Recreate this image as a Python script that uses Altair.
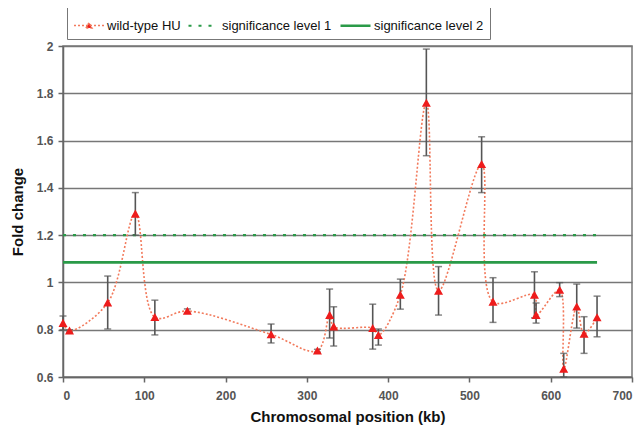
import altair as alt
import pandas as pd

# ---- data ----
pos_kb = [0, 8, 55, 89, 113, 153, 256, 313, 328, 333, 381, 388, 415, 447, 462,
          515, 529, 580, 582, 611, 616, 632, 641, 657]
fold = [0.828, 0.796, 0.914, 1.29, 0.853, 0.879, 0.78, 0.711, 0.862, 0.813, 0.806, 0.777,
        0.947, 1.759, 0.964, 1.50, 0.918, 0.947, 0.862, 0.968, 0.634, 0.897, 0.782, 0.852]
err_lo = [0.80, 0.79, 0.803, 1.20, 0.778, 0.87, 0.744, 0.705, 0.765, 0.731, 0.718, 0.735,
          0.887, 1.536, 0.862, 1.38, 0.831, 0.85, 0.828, 0.94, 0.60, 0.807, 0.70, 0.77]
err_hi = [0.858, 0.80, 1.027, 1.38, 0.925, 0.888, 0.824, 0.717, 0.972, 0.897, 0.908, 0.803,
          1.014, 1.987, 1.067, 1.616, 1.02, 1.045, 0.913, 0.999, 0.70, 0.993, 0.855, 0.942]

series_names = ["wild-type HU", "significance level 1", "significance level 2"]
sig_x = [0, 657]
sig1_y = 1.2
sig2_y = 1.085

wt = pd.DataFrame({"x": pos_kb, "y": fold, "lo": err_lo, "hi": err_hi,
                   "series": series_names[0]})
sig = pd.DataFrame({
    "x": sig_x + sig_x,
    "y": [sig1_y] * 2 + [sig2_y] * 2,
    "series": [series_names[1]] * 2 + [series_names[2]] * 2,
})
lines = pd.concat([wt[["x", "y", "series"]], sig], ignore_index=True)

FONT = "Liberation Sans"
TRI = "M-1,0L1,0M-0.2,0.17L0,-0.19L0.2,0.17Z"

xs = alt.Scale(domain=[0, 700], nice=False)
ys = alt.Scale(domain=[0.6, 2], nice=False, zero=False)

x_axis = alt.Axis(title="Chromosomal position (kb)", values=list(range(0, 701, 100)),
                  grid=False, tickSize=5, labelPadding=8, titlePadding=8)
y_axis = alt.Axis(title="Fold change", values=[0.6, 0.8, 1.0, 1.2, 1.4, 1.6, 1.8, 2.0],
                  format="~g", grid=True, tickSize=5, labelPadding=5, titlePadding=11)

legend = alt.Legend(title=None, orient="none", legendX=4, legendY=-43,
                    direction="horizontal", symbolSize=900, symbolStrokeWidth=2,
                    labelFont=FONT, labelFontSize=13, labelColor="#111",
                    strokeColor="#777", padding=6, columnPadding=3,
                    labelOffset=2, labelLimit=300)

base = alt.Chart(lines)

line_layer = base.mark_line(interpolate="catmull-rom").encode(
    x=alt.X("x:Q", scale=xs, axis=x_axis),
    y=alt.Y("y:Q", scale=ys, axis=y_axis),
    color=alt.Color("series:N", scale=alt.Scale(domain=series_names,
                    range=["#f27a5c", "#2a9a48", "#2a9a48"]), legend=legend),
    strokeDash=alt.StrokeDash("series:N", scale=alt.Scale(domain=series_names,
                    range=[[2, 2], [3, 7], [1, 0]]), legend=legend),
    strokeWidth=alt.StrokeWidth("series:N", scale=alt.Scale(domain=series_names,
                    range=[1.6, 2.6, 2.6]), legend=None),
    detail="series:N",
)

err_layer = alt.Chart(wt).mark_errorbar(
    ticks={"size": 7, "thickness": 1.5}, rule={"strokeWidth": 1.6}, color="#555"
).encode(
    x="x:Q",
    y=alt.Y("lo:Q", scale=ys, title="Fold change"),
    y2="hi:Q",
)

pt_layer = alt.Chart(wt).mark_point(filled=True, size=2025, opacity=1, color="#ee1c1c").encode(
    x="x:Q",
    y=alt.Y("y:Q", title="Fold change"),
    shape=alt.Shape("series:N", scale=alt.Scale(domain=series_names,
                    range=[TRI, "stroke", "stroke"]), legend=legend),
)

chart = alt.layer(line_layer, err_layer, pt_layer).properties(
    width=569, height=331,
    autosize=alt.AutoSizeParams(type="none"),
    padding={"left": 55, "top": 38, "right": 3, "bottom": 51},
).configure_view(
    stroke="#777", strokeWidth=1.5
).configure_axis(
    labelFont=FONT, labelFontSize=12, labelFontWeight="bold", labelColor="#555",
    titleFont=FONT, titleFontSize=15, titleFontWeight="bold", titleColor="#111",
    domainColor="#666", domainWidth=1.5, tickColor="#666", tickWidth=1.5,
    gridColor="#777", gridWidth=1.5,
)

chart.save("out.html", embed_options={"renderer": "svg", "actions": False})
